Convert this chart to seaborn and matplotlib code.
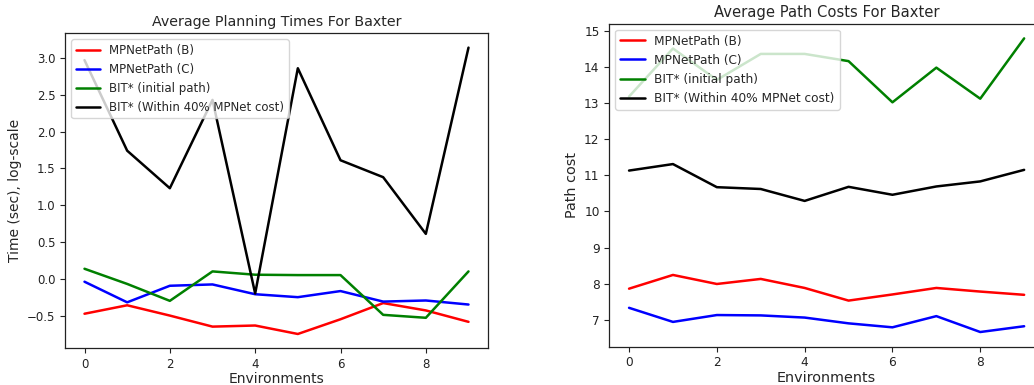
import numpy as np
import pandas as pd
import matplotlib
matplotlib.use("Agg")
import matplotlib.pyplot as plt
import seaborn as sns

environments = list(range(10))
series_names = ["MPNetPath (B)", "MPNetPath (C)", "BIT* (initial path)", "BIT* (Within 40% MPNet cost)"]
series_colors = ["red", "blue", "green", "black"]

# Planning times (log-scale seconds)
time_mpnet_b = [-0.475, -0.36, -0.50, -0.65, -0.635, -0.75, -0.55, -0.33, -0.43, -0.585]
time_mpnet_c = [-0.04, -0.32, -0.095, -0.077, -0.21, -0.25, -0.167, -0.31, -0.295, -0.35]
time_bit_initial = [0.136, -0.07, -0.30, 0.10, 0.055, 0.05, 0.05, -0.49, -0.53, 0.10]
time_bit_within = [2.97, 1.74, 1.23, 2.43, -0.20, 2.86, 1.61, 1.38, 0.61, 3.14]

# Path costs
cost_mpnet_b = [7.86, 8.24, 7.99, 8.13, 7.88, 7.53, 7.70, 7.88, 7.78, 7.69]
cost_mpnet_c = [7.33, 6.94, 7.13, 7.12, 7.06, 6.90, 6.79, 7.10, 6.66, 6.82]
cost_bit_initial = [13.18, 14.51, 13.64, 14.36, 14.36, 14.16, 13.02, 13.98, 13.12, 14.79]
cost_bit_within = [11.13, 11.31, 10.67, 10.62, 10.29, 10.68, 10.46, 10.69, 10.83, 11.15]


def long_frame(columns):
    rows = []
    for name, vals in zip(series_names, columns):
        for env, v in zip(environments, vals):
            rows.append({"Environments": env, "value": v, "method": name})
    return pd.DataFrame(rows)


times_df = long_frame([time_mpnet_b, time_mpnet_c, time_bit_initial, time_bit_within])
costs_df = long_frame([cost_mpnet_b, cost_mpnet_c, cost_bit_initial, cost_bit_within])

sns.set_style("white")
plt.rcParams["font.family"] = ["DejaVu Sans"]
plt.rcParams["axes.edgecolor"] = "#222222"
plt.rcParams["xtick.color"] = "#222222"
plt.rcParams["ytick.color"] = "#222222"
plt.rcParams["xtick.bottom"] = True
plt.rcParams["ytick.left"] = True

W, H = 1034, 385
fig = plt.figure(figsize=(W / 100, H / 100), dpi=100)

ax1 = fig.add_axes([65.3 / W, (H - 348.3) / H, 422.4 / W, 315.0 / H])
ax2 = fig.add_axes([609.3 / W, (H - 346.7) / H, 434.6 / W, 323.0 / H])

palette = dict(zip(series_names, series_colors))


def draw(ax, df, title, ylabel, fs):
    sns.lineplot(data=df, x="Environments", y="value", hue="method",
                 hue_order=series_names, palette=palette, linewidth=1.8, ax=ax)
    ax.set_title(title, fontsize=fs * 1.21, pad=5)
    ax.set_xlabel("Environments", fontsize=fs * 1.18, labelpad=1)
    ax.set_ylabel(ylabel, fontsize=fs * 1.18)
    ax.tick_params(labelsize=fs, length=3.5, width=0.8)
    ax.set_xticks([0, 2, 4, 6, 8])
    for s in ax.spines.values():
        s.set_linewidth(0.9)
    sns.move_legend(ax, "upper left", title=None, frameon=True, fontsize=fs,
                    framealpha=0.8, edgecolor="0.8", fancybox=True)


draw(ax1, times_df, "Average Planning Times For Baxter", "Time (sec), log-scale", 8.5)
draw(ax2, costs_df, "Average Path Costs For Baxter", "Path cost", 8.75)

fig.savefig("out.png", dpi=100)
